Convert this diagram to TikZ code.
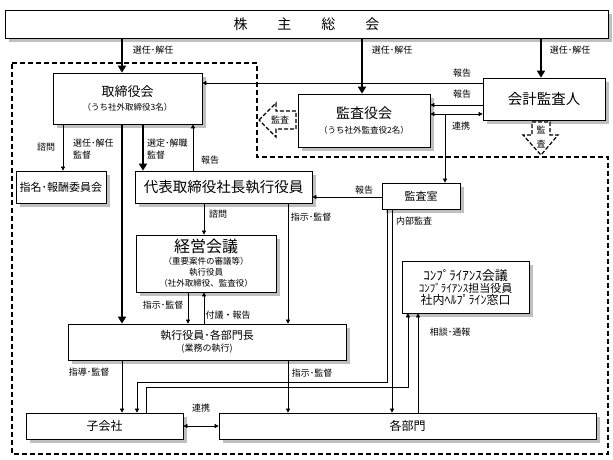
\documentclass[tikz,border=0pt]{standalone}
\usepackage{fontspec}
\setmainfont{Noto Sans CJK JP}
\usetikzlibrary{arrows.meta,shadows,calc}
\begin{document}
\begin{tikzpicture}[x=1pt,y=-1pt,
  box/.style={draw=black, line width=0.7pt, fill=white, inner sep=0pt, align=center,
    drop shadow={opacity=1, fill=gray!50, shadow xshift=4pt, shadow yshift=-4pt}},
  lbl/.style={font=\fontsize{9}{12}\selectfont, inner sep=0pt},
  conn/.style={draw, line width=0.6pt, -{Triangle[length=4pt,width=4pt]}},
  biconn/.style={draw, line width=0.6pt, {Triangle[length=4pt,width=4pt]}-{Triangle[length=4pt,width=4pt]}},
  thickarr/.style={draw, line width=2.6pt, -{Triangle[length=7pt,width=8pt]}},
  boundary/.style={draw, line width=1.4pt, dash pattern=on 5pt off 3pt},
  kansaarrow/.style={draw, line width=1.2pt, dash pattern=on 4pt off 2pt, fill=white},
]
\useasboundingbox (0,0) rectangle (613,460);
\fill[white] (0,0) rectangle (613,460);

% x and y reference coordinates
\foreach \xx in {63,122,137,143,146,188,193,204,288,362,387,392,408,418,445,541}
  {\coordinate (c\xx) at (\xx,0);}
\foreach \yy in {83,105,114,197,382,387,426}
  {\coordinate (y\yy) at (0,\yy);}

% dashed boundary
\draw[boundary] (12,63) -- (257,63) -- (257,157) -- (608,157) -- (608,454) -- (12,454) -- cycle;

% boxes
\node[box, minimum width=603, minimum height=28, font=\fontsize{14}{16}\selectfont] (kabu) at (306.5,24)
  {株\hspace{30pt}主\hspace{30pt}総\hspace{30pt}会};
\node[box, minimum width=149, minimum height=51, font=\fontsize{9}{14}\selectfont] (tori) at (127.5,98.5)
  {{\fontsize{13}{14}\selectfont 取締役会}\\{\fontsize{8.5}{10}\selectfont （うち社外取締役3名）}};
\node[box, minimum width=132, minimum height=53, font=\fontsize{9}{15}\selectfont] (kansayaku) at (364,120.5)
  {{\fontsize{14}{15}\selectfont 監査役会}\\{\fontsize{8.5}{10}\selectfont （うち社外監査役2名）}};
\node[box, minimum width=122, minimum height=42, font=\fontsize{14.5}{16}\selectfont] (kaikei) at (544,99) {会計監査人};
\node[box, minimum width=90, minimum height=32, font=\fontsize{11}{12}\selectfont] (shimei) at (61,187) {指名･報酬委員会};
\node[box, minimum width=177, minimum height=32, font=\fontsize{14.5}{16}\selectfont] (daihyo) at (223.5,187) {代表取締役社長執行役員};
\node[box, minimum width=78, minimum height=26, font=\fontsize{11}{12}\selectfont] (kansashitsu) at (421,196) {監査室};
\node[box, minimum width=140, minimum height=57, font=\fontsize{8.5}{11}\selectfont] (keiei) at (206,263.5)
  {{\fontsize{16}{16}\selectfont 経営会議}\\[1pt]（重要案件の審議等）\\執行役員\\（社外取締役、監査役）};
\node[box, minimum width=127, minimum height=52, font=\fontsize{11}{12}\selectfont] (comp) at (465.5,287)
  {{\fontsize{13}{14}\selectfont ｺﾝﾌﾟﾗｲｱﾝｽ会議}\\ｺﾝﾌﾟﾗｲｱﾝｽ担当役員\\{\fontsize{12}{12}\selectfont 社内ﾍﾙﾌﾟﾗｲﾝ窓口}};
\node[box, minimum width=278, minimum height=36, font=\fontsize{9}{12}\selectfont] (shikko) at (207,342)
  {{\fontsize{11}{12}\selectfont 執行役員･各部門長}\\(業務の執行)};
\node[box, minimum width=157, minimum height=26, font=\fontsize{12}{13}\selectfont] (kogaisha) at (104.5,426) {子会社};
\node[box, minimum width=377, minimum height=26, font=\fontsize{12}{13}\selectfont] (kakubu) at (407.5,426) {各部門};

% 監査 arrows (dashed outline)
\draw[kansaarrow] (259,120) -- (276,103) -- (276,111) -- (296,111) -- (296,129) -- (276,129) -- (276,137) -- cycle;
\node[lbl] (kansaL) at (280,120) {監査};
\draw[kansaarrow] (532,122) -- (550,122) -- (550,135) -- (558,135) -- (541,155) -- (523,135) -- (532,135) -- cycle;
\node[lbl, align=center, font=\fontsize{9}{14}\selectfont] (kansaD) at (541,137) {監\\査};

% thick arrows
\draw[thickarr] (c122 |- kabu.south) -- (c122 |- tori.north);
\draw[thickarr] (c362 |- kabu.south) -- (c362 |- kansayaku.north);
\draw[thickarr] (c541 |- kabu.south) -- (c541 |- kaikei.north);
\draw[thickarr] (c122 |- tori.south) -- (c122 |- shikko.north);
\draw[thickarr] (c143 |- tori.south) -- (c143 |- daihyo.north);

% thin connectors
\draw[conn] (kaikei.west |- y83) -- (tori.east |- y83);
\draw[conn] (kaikei.west |- y105) -- (kansayaku.east |- y105);
\draw[biconn] (kansayaku.east |- y114) -- (kaikei.west |- y114);
\draw[conn] (c445 |- y114) -- (c445 |- kansashitsu.north);
\draw[conn] (c63 |- tori.south) -- (c63 |- shimei.north);
\draw[conn] (c193 |- daihyo.north) -- (c193 |- tori.south);
\draw[conn] (kansashitsu.west |- y197) -- (daihyo.east |- y197);
\draw[conn] (c204 |- daihyo.south) -- (c204 |- keiei.north);
\draw[conn] (c288 |- daihyo.south) -- (c288 |- shikko.north);
\draw[conn] (c188 |- keiei.south) -- (c188 |- shikko.north);
\draw[conn] (c204 |- shikko.north) -- (c204 |- keiei.south);
\draw[conn] (c122 |- shikko.south) -- (c122 |- kogaisha.north);
\draw[conn] (c288 |- shikko.south) -- (c288 |- kakubu.north);
\draw[conn] (c387 |- kansashitsu.south) -- (c387 |- y382) -- (c137 |- y382) -- (c137 |- kogaisha.north);
\draw[conn] (c392 |- kansashitsu.south) -- (c392 |- kakubu.north);
\draw[conn] (c146 |- kogaisha.north) -- (c146 |- y387) -- (c408 |- y387) -- (c408 |- comp.south);
\draw[conn] (c418 |- kakubu.north) -- (c418 |- comp.south);
\draw[biconn] (kogaisha.east |- y426) -- (kakubu.west |- y426);

% labels
\node[lbl] (l1) at (153,50) {選任･解任};
\node[lbl] (l2) at (392,50) {選任･解任};
\node[lbl] (l3) at (570,50) {選任･解任};
\node[lbl] (l4) at (462,73) {報告};
\node[lbl] (l5) at (462,94) {報告};
\node[lbl] (l6) at (461,126) {連携};
\node[lbl] (l7) at (46,147) {諮問};
\node[lbl, align=left, anchor=west] (l8) at (73,149) {選任･解任\\監督};
\node[lbl, align=left, anchor=west] (l9) at (147,149) {選定･解職\\監督};
\node[lbl] (l10) at (210,160) {報告};
\node[lbl] (l11) at (218,214) {諮問};
\node[lbl] (l12) at (311,217) {指示･監督};
\node[lbl] (l13) at (364,190) {報告};
\node[lbl] (l14) at (414,221) {内部監査};
\node[lbl] (l15) at (163,305) {指示･監督};
\node[lbl] (l16) at (228,315) {付議・報告};
\node[lbl] (l17) at (89,372) {指導･監督};
\node[lbl] (l18) at (312,373) {指示･監督};
\node[lbl] (l19) at (201,408) {連携};
\node[lbl] (l20) at (450,332) {相談･通報};
\end{tikzpicture}
\end{document}
